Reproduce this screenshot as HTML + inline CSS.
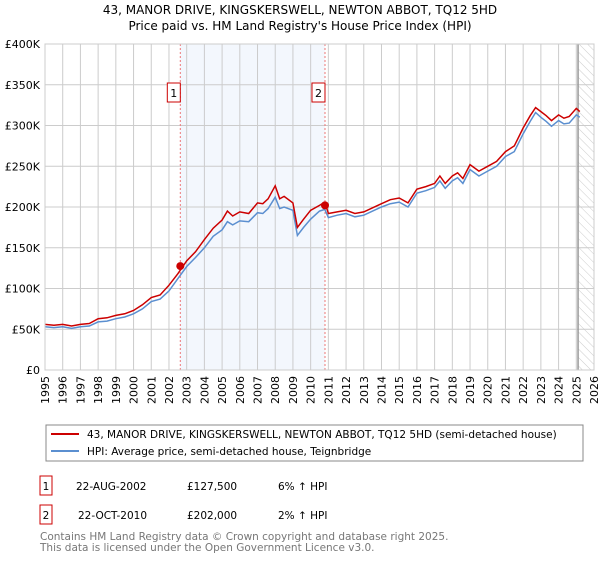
<!DOCTYPE html>
<html><head><meta charset="utf-8"><style>
body{margin:0;background:#fff;font-family:"DejaVu Sans","Liberation Sans",sans-serif;}
svg text{font-family:"DejaVu Sans","Liberation Sans",sans-serif;}
</style></head><body>
<svg id="c" width="600" height="560" xmlns="http://www.w3.org/2000/svg">
<defs><pattern id="hatch" width="6" height="6" patternUnits="userSpaceOnUse" patternTransform="rotate(-45)"><line x1="0" y1="0" x2="0" y2="6" stroke="#ccc" stroke-width="1"/></pattern></defs>
<text x="300" y="14" text-anchor="middle" font-size="12">43, MANOR DRIVE, KINGSKERSWELL, NEWTON ABBOT, TQ12 5HD</text>
<text x="300" y="30" text-anchor="middle" font-size="12">Price paid vs. HM Land Registry's House Price Index (HPI)</text>
<g id="plot"></g>
<g>
<rect x="46" y="425" width="537" height="36" fill="#fff" stroke="#888"/>
<line x1="51" y1="434" x2="79" y2="434" stroke="#cc0000" stroke-width="2"/>
<text x="87" y="438" font-size="10.5">43, MANOR DRIVE, KINGSKERSWELL, NEWTON ABBOT, TQ12 5HD (semi-detached house)</text>
<line x1="51" y1="451" x2="79" y2="451" stroke="#5b8fd0" stroke-width="2"/>
<text x="87" y="455" font-size="10.5">HPI: Average price, semi-detached house, Teignbridge</text>
</g>
<g font-size="10.5">
<rect x="40" y="476" width="12" height="19" fill="#fff" stroke="#cc0000"/>
<text x="46" y="490" text-anchor="middle">1</text>
<text x="76" y="490">22-AUG-2002</text><text x="187" y="490">£127,500</text><text x="278" y="490">6% ↑ HPI</text>
<rect x="40" y="505" width="12" height="19" fill="#fff" stroke="#cc0000"/>
<text x="46" y="519" text-anchor="middle">2</text>
<text x="78" y="519">22-OCT-2010</text><text x="187" y="519">£202,000</text><text x="278" y="519">2% ↑ HPI</text>
</g>
<text x="40" y="540" font-size="10.5" fill="#777">Contains HM Land Registry data © Crown copyright and database right 2025.</text>
<text x="40" y="551" font-size="10.5" fill="#777">This data is licensed under the Open Government Licence v3.0.</text>
</svg>
<script>
const yTicks=[0,50,100,150,200,250,300,350,400];
const yTickLabels=["£0","£50K","£100K","£150K","£200K","£250K","£300K","£350K","£400K"];
const years=[1995,1996,1997,1998,1999,2000,2001,2002,2003,2004,2005,2006,2007,2008,2009,2010,2011,2012,2013,2014,2015,2016,2017,2018,2019,2020,2021,2022,2023,2024,2025,2026];
const hpiDates=[1995,1995.5,1996,1996.5,1997,1997.5,1998,1998.5,1999,1999.5,2000,2000.5,2001,2001.5,2002,2002.5,2003,2003.5,2004,2004.5,2005,2005.3,2005.6,2006,2006.5,2007,2007.3,2007.6,2008,2008.25,2008.5,2009,2009.25,2009.6,2010,2010.5,2010.8,2011,2011.5,2012,2012.5,2013,2013.5,2014,2014.5,2015,2015.5,2016,2016.5,2017,2017.3,2017.6,2018,2018.3,2018.6,2019,2019.5,2020,2020.5,2021,2021.5,2022,2022.4,2022.7,2023,2023.3,2023.6,2024,2024.3,2024.6,2025,2025.2];
const hpiValues=[53,52,53,51,53,54,59,60,63,65,69,75,84,87,97,112,127,138,150,164,172,182,178,183,182,193,192,198,212,198,200,196,165,175,185,195,197,187,190,192,188,190,195,200,204,206,200,217,220,224,232,223,232,236,229,246,238,244,250,262,268,290,305,316,310,305,299,306,302,303,313,310];
const ppValues=[56,55,56,54,56,57,63,64,67,69,73,80,89,92,104,118,134,145,160,174,184,195,189,194,192,205,204,210,226,210,213,205,175,185,196,202,206,192,194,196,192,194,199,204,209,211,205,222,225,229,238,229,238,242,235,252,244,250,256,268,275,297,312,322,317,312,306,313,309,311,321,317];
const saleDates=[2002.64,2010.81];
const saleValues=[127.5,202];
const x0=45,x1=594,y0=370,yTop=44;
const X=d=>x0+(d-1995)/(2026-1995)*(x1-x0);
const Y=v=>y0-v/400*(y0-yTop);
const NS="http://www.w3.org/2000/svg";
const g=document.getElementById('plot');
function mk(t,a,p){const e=document.createElementNS(NS,t);for(const k in a)e.setAttribute(k,a[k]);(p||g).appendChild(e);return e;}
let e=mk('rect',{x:X(saleDates[0]),y:yTop,width:X(saleDates[1])-X(saleDates[0]),height:y0-yTop,fill:'#eef3fc',opacity:0.7});


e=mk('rect',{x:X(2025.1),y:yTop,width:x1-X(2025.1),height:y0-yTop,fill:'url(#hatch)'});


years.forEach(yr=>{
 let l=mk('line',{x1:X(yr),x2:X(yr),y1:yTop,y2:y0,stroke:'#ccc'});
 
 
 let t=mk('text',{x:0,y:0,'font-size':11,'text-anchor':'end',transform:`translate(${X(yr)+4},${y0+6}) rotate(-90)`});
 t.textContent=yr;
 
 
});
yTicks.forEach((v,i)=>{
 let l=mk('line',{x1:x0,x2:x1,y1:Y(v),y2:Y(v),stroke:'#ccc'});
 
 
 let t=mk('text',{x:x0-5,y:Y(v)+4,'font-size':11,'text-anchor':'end'});
 t.textContent=yTickLabels[i];
 
 
});
e=mk('line',{x1:X(2025.1),x2:X(2025.1),y1:yTop,y2:y0,stroke:'#999','stroke-width':1.5});


saleDates.forEach((d,i)=>{
 let l=mk('line',{x1:X(d),x2:X(d),y1:yTop,y2:y0,stroke:'#e77','stroke-dasharray':'2,2'});
 
 
 let r=mk('rect',{x:X(d)-13,y:83,width:13,height:19,fill:'#fff',stroke:'#cc0000'});
 
 
 let t=mk('text',{x:X(d)-6.5,y:97,'font-size':11,'text-anchor':'middle'});
 t.textContent=String(i+1);
 
 
});
const path=vals=>hpiDates.map((d,i)=>(i?'L':'M')+X(d).toFixed(1)+','+Y(vals[i]).toFixed(1)).join('');
e=mk('path',{d:path(hpiValues),fill:'none',stroke:'#5b8fd0','stroke-width':1.5});


e=mk('path',{d:path(ppValues),fill:'none',stroke:'#cc0000','stroke-width':1.5});


saleDates.forEach((d,i)=>{
 let c=mk('circle',{cx:X(d),cy:Y(saleValues[i]),r:4,fill:'#cc0000'});
 
 
});
e=mk('rect',{x:x0,y:yTop,width:x1-x0,height:y0-yTop,fill:'none',stroke:'#ccc'});


</script>
</body></html>
